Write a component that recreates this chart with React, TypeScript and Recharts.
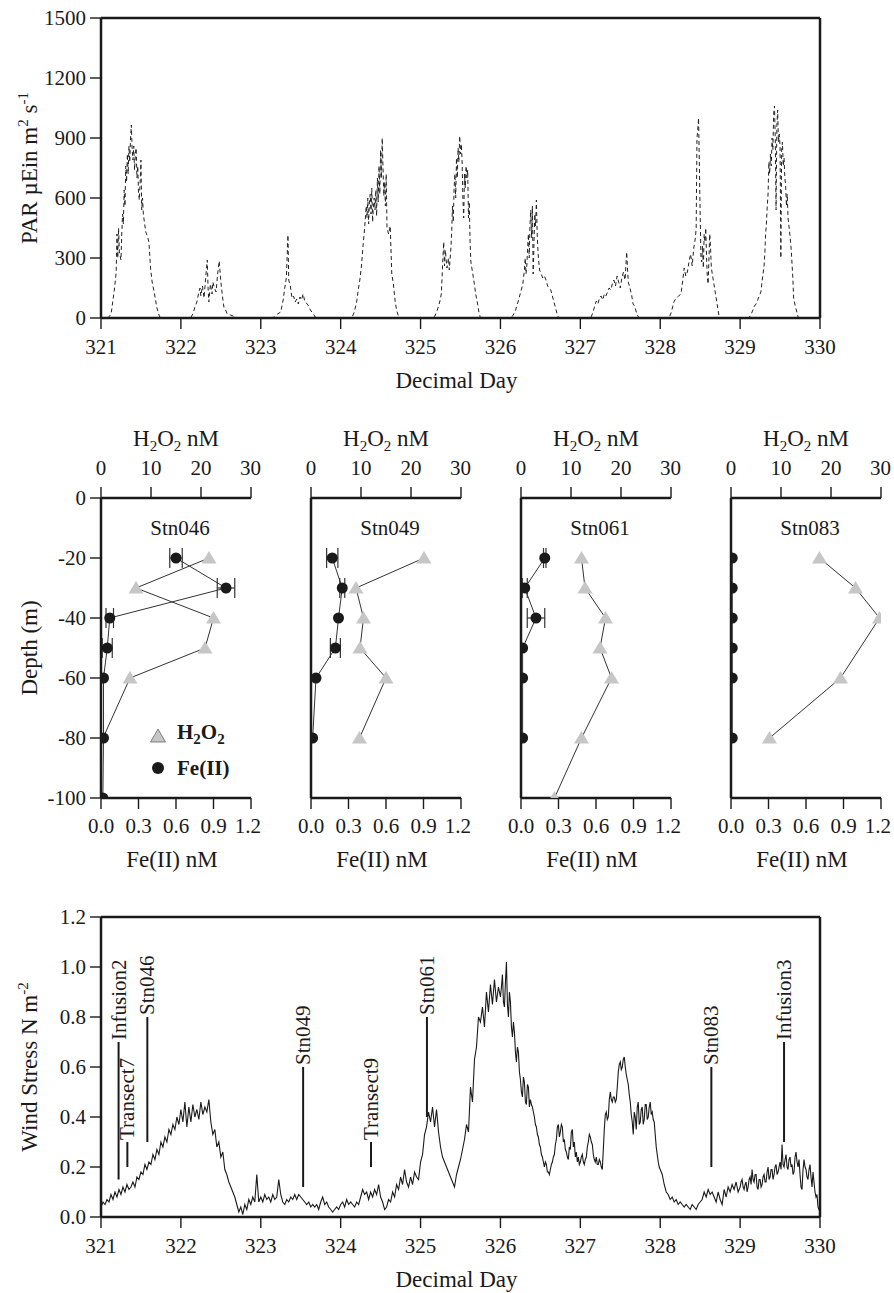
import React from 'react';
import {
  ComposedChart, LineChart, Line, Scatter, XAxis, YAxis, ErrorBar,
  ReferenceLine, ReferenceDot, Legend,
} from 'recharts';

const FONT = '"Liberation Serif", "Times New Roman", serif';
const INK = '#1a1a1a';

// ---- axis ticks ----
const dayTicks = [321, 322, 323, 324, 325, 326, 327, 328, 329, 330];
const parTicks = [0, 300, 600, 900, 1200, 1500];
const windTicks = [0, 0.2, 0.4, 0.6, 0.8, 1.0, 1.2];
const depthTicks = [-100, -80, -60, -40, -20, 0];
const h2o2Ticks = [0, 10, 20, 30];
const feTicks = [0, 0.3, 0.6, 0.9, 1.2];

// ---- PAR, [decimal day, µEin m-2 s-1] ----
const par321 = [[321.08,0],[321.11,10],[321.13,30],[321.15,90],[321.17,150],[321.19,230],[321.2,420],[321.21,300],[321.22,450],[321.23,330],[321.25,290],[321.26,420],[321.27,520],[321.28,470],[321.29,640],[321.3,560],[321.31,760],[321.32,680],[321.33,820],[321.34,720],[321.35,860],[321.36,780],[321.37,900],[321.38,965],[321.39,840],[321.4,790],[321.41,860],[321.42,740],[321.43,820],[321.44,850],[321.45,700],[321.46,760],[321.47,620],[321.48,590],[321.49,680],[321.5,790],[321.51,540],[321.52,600],[321.53,520],[321.54,490],[321.56,430],[321.58,410],[321.6,380],[321.62,250],[321.64,180],[321.67,120],[321.7,50],[321.73,10],[321.75,0]];
const par322 = [[322.12,0],[322.15,20],[322.18,60],[322.2,80],[322.22,120],[322.24,150],[322.25,110],[322.27,160],[322.29,100],[322.31,200],[322.33,290],[322.34,150],[322.35,80],[322.37,170],[322.39,120],[322.4,180],[322.42,150],[322.44,130],[322.46,220],[322.48,285],[322.5,180],[322.52,110],[322.54,50],[322.56,40],[322.58,20],[322.62,15],[322.68,5],[322.72,0]];
const par323 = [[323.12,0],[323.17,5],[323.21,20],[323.25,30],[323.28,90],[323.3,150],[323.32,200],[323.34,415],[323.35,190],[323.37,160],[323.39,100],[323.41,110],[323.43,80],[323.45,95],[323.47,70],[323.49,105],[323.51,90],[323.53,120],[323.55,85],[323.57,75],[323.6,60],[323.62,40],[323.64,30],[323.66,20],[323.68,5],[323.7,0]];
const par324 = [[324.14,0],[324.17,30],[324.2,80],[324.22,140],[324.24,190],[324.26,260],[324.28,360],[324.3,450],[324.32,560],[324.33,500],[324.34,600],[324.35,470],[324.36,580],[324.37,620],[324.38,520],[324.39,650],[324.4,480],[324.41,560],[324.42,600],[324.43,540],[324.44,640],[324.45,510],[324.46,700],[324.47,580],[324.48,760],[324.49,620],[324.5,840],[324.51,700],[324.52,900],[324.53,750],[324.54,610],[324.55,680],[324.56,560],[324.57,720],[324.58,450],[324.6,420],[324.62,460],[324.64,220],[324.66,170],[324.68,90],[324.7,40],[324.73,0]];
const par325 = [[325.15,0],[325.18,10],[325.21,40],[325.24,80],[325.26,120],[325.28,300],[325.29,380],[325.3,260],[325.31,340],[325.33,250],[325.35,300],[325.36,240],[325.38,350],[325.39,430],[325.4,560],[325.41,480],[325.42,650],[325.43,720],[325.44,600],[325.45,800],[325.46,700],[325.47,850],[325.48,780],[325.49,910],[325.5,820],[325.51,870],[325.52,780],[325.53,600],[325.54,500],[325.55,720],[325.56,650],[325.57,760],[325.58,700],[325.59,740],[325.6,500],[325.61,580],[325.62,380],[325.63,280],[325.65,230],[325.67,180],[325.69,120],[325.71,80],[325.73,30],[325.75,0]];
const par326 = [[326.13,0],[326.16,15],[326.19,40],[326.22,80],[326.24,110],[326.26,140],[326.28,170],[326.3,240],[326.31,300],[326.32,220],[326.33,260],[326.34,350],[326.35,420],[326.36,300],[326.37,470],[326.38,540],[326.39,400],[326.4,560],[326.41,220],[326.42,380],[326.43,520],[326.44,460],[326.45,590],[326.46,420],[326.47,330],[326.48,280],[326.49,240],[326.51,220],[326.53,200],[326.55,210],[326.57,190],[326.59,160],[326.61,150],[326.63,140],[326.65,110],[326.67,80],[326.69,50],[326.71,20],[326.73,0]];
const par327 = [[327.13,0],[327.16,30],[327.18,60],[327.2,85],[327.22,70],[327.24,100],[327.26,110],[327.28,90],[327.3,120],[327.32,110],[327.34,130],[327.36,150],[327.38,140],[327.4,170],[327.42,190],[327.44,160],[327.46,210],[327.48,180],[327.5,150],[327.52,200],[327.54,230],[327.56,190],[327.58,330],[327.59,250],[327.6,180],[327.62,150],[327.64,120],[327.66,70],[327.68,60],[327.7,30],[327.72,10],[327.74,0]];
const par328 = [[328.11,0],[328.14,30],[328.17,80],[328.2,100],[328.23,110],[328.26,120],[328.28,180],[328.3,250],[328.32,210],[328.34,230],[328.36,280],[328.38,320],[328.4,260],[328.42,350],[328.44,400],[328.45,450],[328.46,900],[328.47,940],[328.48,1000],[328.49,760],[328.5,520],[328.51,300],[328.52,280],[328.53,360],[328.54,250],[328.55,420],[328.56,380],[328.57,450],[328.58,300],[328.59,200],[328.6,170],[328.61,300],[328.62,420],[328.63,350],[328.64,250],[328.66,200],[328.68,150],[328.7,100],[328.72,50],[328.74,0]];
const par329 = [[329.11,0],[329.14,20],[329.16,40],[329.18,60],[329.2,70],[329.22,90],[329.24,110],[329.26,130],[329.28,200],[329.3,260],[329.31,330],[329.32,420],[329.33,480],[329.34,560],[329.35,620],[329.36,780],[329.37,720],[329.38,820],[329.39,760],[329.4,900],[329.41,840],[329.42,1020],[329.43,1060],[329.44,900],[329.45,540],[329.46,960],[329.47,1040],[329.48,880],[329.49,920],[329.5,860],[329.51,300],[329.52,840],[329.53,880],[329.54,760],[329.55,800],[329.56,700],[329.57,660],[329.58,560],[329.59,620],[329.6,500],[329.62,430],[329.64,340],[329.66,200],[329.67,100],[329.69,60],[329.71,30],[329.73,0]];

// ---- wind stress, N m-2, evenly sampled within each day ----
const wind321 = [0.04,0.06,0.05,0.07,0.06,0.09,0.07,0.10,0.08,0.11,0.09,0.12,0.10,0.13,0.11,0.12,0.14,0.12,0.16,0.15,0.18,0.17,0.21,0.19,0.22,0.21,0.25,0.23,0.27,0.25,0.30,0.28,0.32,0.30,0.35,0.33,0.37,0.35,0.40,0.37];
const wind322 = [0.43,0.38,0.46,0.36,0.44,0.38,0.45,0.40,0.43,0.39,0.46,0.41,0.44,0.42,0.47,0.38,0.33,0.35,0.28,0.30,0.24,0.26,0.19,0.17,0.14,0.12,0.10,0.08,0.05,0.02,0.04,0.01,0.05,0.03,0.07,0.05,0.08,0.06,0.17,0.06];
const wind323 = [0.08,0.06,0.09,0.07,0.08,0.06,0.09,0.07,0.08,0.15,0.09,0.06,0.05,0.07,0.06,0.08,0.07,0.09,0.07,0.09,0.08,0.07,0.06,0.05,0.06,0.04,0.05,0.04,0.05,0.03,0.06,0.08,0.05,0.06,0.04,0.03,0.02,0.03,0.04,0.03];
const wind324 = [0.05,0.06,0.04,0.07,0.05,0.06,0.05,0.04,0.06,0.05,0.08,0.11,0.09,0.10,0.07,0.10,0.08,0.11,0.09,0.13,0.08,0.06,0.03,0.04,0.07,0.06,0.10,0.08,0.13,0.11,0.16,0.13,0.19,0.14,0.12,0.16,0.13,0.18,0.16,0.15];
const wind325 = [0.22,0.25,0.33,0.36,0.42,0.38,0.44,0.36,0.43,0.34,0.28,0.24,0.22,0.20,0.18,0.16,0.14,0.12,0.17,0.20,0.23,0.27,0.31,0.37,0.34,0.52,0.46,0.63,0.68,0.80,0.78,0.84,0.76,0.90,0.82,0.93,0.85,0.95,0.86,0.92];
const wind326 = [0.88,0.92,0.97,0.86,0.84,0.94,1.02,0.85,0.80,0.90,0.86,0.76,0.72,0.78,0.74,0.66,0.62,0.68,0.66,0.58,0.55,0.50,0.48,0.56,0.54,0.46,0.45,0.53,0.52,0.44,0.47,0.45,0.44,0.42,0.40,0.37,0.36,0.33,0.32,0.29,0.28,0.25,0.24,0.22,0.20,0.22,0.21,0.18,0.18,0.17,0.19,0.21,0.22,0.24,0.25,0.29,0.31,0.36,0.37,0.32,0.34,0.37,0.36,0.30,0.31,0.27,0.26,0.24,0.23,0.28,0.27,0.34,0.35,0.28,0.30,0.24,0.26,0.22,0.24,0.21];
const wind327 = [0.22,0.24,0.25,0.22,0.21,0.23,0.24,0.28,0.30,0.33,0.32,0.30,0.29,0.25,0.23,0.22,0.24,0.21,0.21,0.23,0.22,0.20,0.19,0.27,0.35,0.41,0.42,0.39,0.40,0.47,0.50,0.47,0.46,0.48,0.48,0.46,0.47,0.52,0.58,0.61,0.62,0.59,0.60,0.63,0.64,0.60,0.57,0.55,0.53,0.49,0.46,0.41,0.38,0.33,0.42,0.40,0.35,0.44,0.46,0.37,0.38,0.43,0.44,0.37,0.39,0.45,0.45,0.39,0.40,0.44,0.46,0.41,0.42,0.39,0.38,0.33,0.28,0.25,0.22,0.20];
const wind328 = [0.19,0.17,0.13,0.10,0.09,0.07,0.08,0.06,0.07,0.05,0.06,0.05,0.04,0.05,0.04,0.03,0.05,0.04,0.03,0.05,0.06,0.07,0.10,0.08,0.11,0.09,0.10,0.08,0.06,0.10,0.07,0.05,0.11,0.08,0.12,0.10,0.13,0.11,0.14,0.10];
const wind329 = [0.12,0.14,0.15,0.12,0.11,0.13,0.14,0.10,0.12,0.15,0.16,0.13,0.19,0.15,0.14,0.17,0.17,0.12,0.11,0.15,0.15,0.12,0.13,0.16,0.17,0.14,0.14,0.18,0.20,0.15,0.16,0.19,0.19,0.15,0.17,0.20,0.21,0.17,0.18,0.20,0.22,0.19,0.29,0.21,0.20,0.23,0.25,0.20,0.19,0.23,0.24,0.20,0.21,0.17,0.18,0.24,0.26,0.22,0.20,0.23,0.17,0.12,0.11,0.19,0.23,0.20,0.19,0.16,0.15,0.19,0.21,0.16,0.12,0.18,0.14,0.10,0.08,0.09,0.04,0.03];
const wind330 = 0.02;

// ---- event markers on the wind record ----
const eventNames = ['Infusion2', 'Transect7', 'Stn046', 'Stn049', 'Transect9', 'Stn061', 'Stn083', 'Infusion3'];
const eventDays = [321.22, 321.33, 321.58, 323.53, 324.38, 325.08, 328.64, 329.55];
const eventLow = [0.15, 0.2, 0.3, 0.12, 0.2, 0.4, 0.2, 0.3];
const eventHigh = [0.7, 0.3, 0.8, 0.6, 0.3, 0.8, 0.6, 0.7];

// ---- depth profiles: [depth m, H2O2 nM] and [depth m, Fe(II) nM, sd] ----
const stn046H2O2 = [[-20,21.6],[-30,7.0],[-40,22.5],[-50,20.8],[-60,5.8],[-80,0.4]];
const stn046Fe = [[-20,0.6,0.05],[-30,1.0,0.07],[-40,0.07,0.03],[-50,0.05,0.04],[-60,0.02],[-80,0.02],[-100,0.015]];
const stn049H2O2 = [[-20,22.6],[-30,9.0],[-40,10.5],[-50,9.8],[-60,15.0],[-80,9.7]];
const stn049Fe = [[-20,0.17,0.045],[-30,0.25,0.02],[-40,0.22],[-50,0.195,0.04],[-60,0.04],[-80,0.013]];
const stn061H2O2 = [[-20,12.1],[-30,12.8],[-40,16.9],[-50,15.8],[-60,18.1],[-80,12.1],[-100,6.7]];
const stn061Fe = [[-20,0.19,0.01],[-30,0.03,0.02],[-40,0.12,0.07],[-50,0.013],[-60,0.013],[-80,0.013]];
const stn083H2O2 = [[-20,17.7],[-30,24.9],[-40,29.7],[-60,21.9],[-80,7.7]];
const stn083Fe = [[-20,0.01],[-30,0.01],[-40,0.01],[-50,0.01],[-60,0.01],[-80,0.01]];

const legendOrder = ['H2O2', 'Fe(II)'];

const parRows = [par321, par322, par323, par324, par325, par326, par327, par328, par329]
  .flat()
  .map(([t, v]) => ({ t, v }));

const windRows = [wind321, wind322, wind323, wind324, wind325, wind326, wind327, wind328, wind329]
  .flatMap((vals, d) => vals.map((w, i) => ({ t: 321 + d + i / vals.length, w })))
  .concat([{ t: 330, w: wind330 }]);

const events = eventNames.map((name, i) => ({ name, day: eventDays[i], low: eventLow[i], high: eventHigh[i] }));

const toH2O2 = (rows: number[][]) => rows.map(([depth, h]) => ({ depth, h }));
const toFe = (rows: number[][]) =>
  rows.map(([depth, fe, sd]) => (sd === undefined ? { depth, fe } : { depth, fe, err: sd }));

const profiles = [
  { name: 'Stn046', h2o2: toH2O2(stn046H2O2), fe: toFe(stn046Fe) },
  { name: 'Stn049', h2o2: toH2O2(stn049H2O2), fe: toFe(stn049Fe) },
  { name: 'Stn061', h2o2: toH2O2(stn061H2O2), fe: toFe(stn061Fe) },
  { name: 'Stn083', h2o2: toH2O2(stn083H2O2), fe: toFe(stn083Fe) },
];

// ---- shared styling ----
const tickStyle = { fontSize: 21, fill: INK, fontFamily: FONT };
const axisLine = { stroke: INK, strokeWidth: 2.5 };
const tickLine = { stroke: INK, strokeWidth: 1.4 };
const axisCommon = { axisLine, tickLine, tickSize: 11, tickMargin: 10, tick: tickStyle };
const TITLE = 23;
const SUP = 15;

const decimalDayTitle = (props: any) => {
  const vb = props.viewBox || {};
  return (
    <text x={vb.x + vb.width / 2 - 4} y={vb.y + 70} textAnchor="middle" fontSize={TITLE} fontFamily={FONT} fill={INK}>
      Decimal Day
    </text>
  );
};

const parTitle = (props: any) => {
  const vb = props.viewBox || {};
  const x = 37;
  const y = vb.y + vb.height / 2;
  return (
    <text x={x} y={y} transform={`rotate(-90 ${x} ${y})`} textAnchor="middle" fontSize={TITLE} fontFamily={FONT} fill={INK}>
      PAR µEin m<tspan dy={-9} fontSize={SUP}>2</tspan>
      <tspan dy={9}> s</tspan>
      <tspan dy={-9} fontSize={SUP}>-1</tspan>
    </text>
  );
};

const windTitle = (props: any) => {
  const vb = props.viewBox || {};
  const x = 37;
  const y = vb.y + vb.height / 2;
  return (
    <text x={x} y={y} transform={`rotate(-90 ${x} ${y})`} textAnchor="middle" fontSize={TITLE} fontFamily={FONT} fill={INK}>
      Wind Stress N m<tspan dy={-9} fontSize={SUP}>-2</tspan>
    </text>
  );
};

const depthTitle = (props: any) => {
  const vb = props.viewBox || {};
  const x = 37;
  const y = vb.y + vb.height / 2;
  return (
    <text x={x} y={y} transform={`rotate(-90 ${x} ${y})`} textAnchor="middle" fontSize={TITLE} fontFamily={FONT} fill={INK}>
      Depth (m)
    </text>
  );
};

const h2o2Title = (props: any) => {
  const vb = props.viewBox || {};
  return (
    <text x={vb.x + vb.width / 2} y={vb.y + vb.height - 52} textAnchor="middle" fontSize={TITLE} fontFamily={FONT} fill={INK}>
      H<tspan dy={5} fontSize={SUP}>2</tspan>
      <tspan dy={-5}>O</tspan>
      <tspan dy={5} fontSize={SUP}>2</tspan>
      <tspan dy={-5}> nM</tspan>
    </text>
  );
};

const feTitle = (props: any) => {
  const vb = props.viewBox || {};
  return (
    <text x={vb.x + vb.width / 2 - 4} y={vb.y + 69} textAnchor="middle" fontSize={TITLE} fontFamily={FONT} fill={INK}>
      Fe(II) nM
    </text>
  );
};

const Triangle = (p: any) => {
  const h = p.payload ? p.payload.h : p.h;
  if (h !== undefined && h < 1) return <g />;
  return (
    <polygon
      points={`${p.cx},${p.cy - 7} ${p.cx - 7.5},${p.cy + 5.5} ${p.cx + 7.5},${p.cy + 5.5}`}
      fill="#c6c6c6"
    />
  );
};

const Dot = (p: any) => <circle cx={p.cx} cy={p.cy} r={5.5} fill={INK} />;

const ProfileLegend = (props: any) => {
  const items = [...(props.payload || [])].sort(
    (a: any, b: any) => legendOrder.indexOf(a.value) - legendOrder.indexOf(b.value),
  );
  return (
    <div style={{ fontFamily: FONT, fontWeight: 'bold', fontSize: 21, color: INK }}>
      {items.map((e: any) => (
        <div key={e.value} style={{ display: 'flex', alignItems: 'center', height: 32 }}>
          <svg width={20} height={20}>
            {e.value === 'H2O2' ? (
              <polygon points="10,3 2.5,16 17.5,16" fill="#c6c6c6" stroke="#666" strokeWidth={0.8} />
            ) : (
              <circle cx={10} cy={10} r={6} fill={INK} />
            )}
          </svg>
          <span style={{ marginLeft: 9, lineHeight: '21px' }}>
            {e.value === 'H2O2' ? (
              <>H<sub style={{ fontSize: 15 }}>2</sub>O<sub style={{ fontSize: 15 }}>2</sub></>
            ) : (
              e.value
            )}
          </span>
        </div>
      ))}
    </div>
  );
};

const StationName = (name: string) => (p: any) => (
  <text x={p.cx} y={p.cy} textAnchor="middle" dy="0.35em" fontSize={21} fontFamily={FONT} fill={INK}>
    {name}
  </text>
);

const EventName = (name: string) => (p: any) => {
  const x = p.cx;
  const y = p.cy - 2;
  return (
    <text x={x} y={y} dy="0.34em" transform={`rotate(-90 ${x} ${y})`} textAnchor="start" fontSize={21} fontFamily={FONT} fill={INK}>
      {name}
    </text>
  );
};

const PANEL_LEFT = [101, 311, 521, 731];

const Profile = ({ idx }: { idx: number }) => {
  const p = profiles[idx];
  const first = idx === 0;
  return (
    <ComposedChart width={261} height={480} margin={{ top: 38, right: 10, bottom: 22, left: 0 }}>
      <XAxis
        xAxisId="h"
        orientation="top"
        type="number"
        dataKey="h"
        domain={[0, 30]}
        ticks={h2o2Ticks}
        height={60}
        allowDataOverflow
        {...axisCommon}
        tickMargin={12}
        label={h2o2Title}
      />
      <XAxis
        xAxisId="f"
        orientation="bottom"
        type="number"
        dataKey="fe"
        domain={[0, 1.2]}
        ticks={feTicks}
        height={60}
        allowDataOverflow
        {...axisCommon}
        tickMargin={9}
        tickFormatter={(v: number) => v.toFixed(1)}
        label={feTitle}
      />
      <YAxis
        yAxisId="d"
        type="number"
        dataKey="depth"
        domain={[-100, 0]}
        ticks={depthTicks}
        width={101}
        allowDataOverflow
        {...axisCommon}
        tickMargin={4}
        tick={first ? tickStyle : false}
        label={first ? depthTitle : undefined}
      />
      <Scatter
        name="H2O2"
        xAxisId="h"
        yAxisId="d"
        data={p.h2o2}
        fill="#c6c6c6"
        line={{ stroke: '#333', strokeWidth: 1 }}
        shape={Triangle}
        isAnimationActive={false}
      />
      <Scatter
        name="Fe(II)"
        xAxisId="f"
        yAxisId="d"
        data={p.fe}
        fill={INK}
        line={{ stroke: '#333', strokeWidth: 1 }}
        shape={Dot}
        isAnimationActive={false}
      >
        <ErrorBar dataKey="err" direction="x" width={10} stroke="#333" strokeWidth={1.2} />
      </Scatter>
      <ReferenceDot xAxisId="h" yAxisId="d" x={15.8} y={-10} r={0} shape={StationName(p.name)} />
      {first && (
        <Legend
          layout="vertical"
          verticalAlign="middle"
          align="center"
          content={ProfileLegend}
          wrapperStyle={{ left: 148, top: 320, width: 120 }}
        />
      )}
    </ComposedChart>
  );
};

const App = () => (
  <div style={{ position: 'absolute', left: 0, top: 0, width: 894, height: 1293, background: '#fff', fontFamily: FONT }}>
    {/* PAR */}
    <div style={{ position: 'absolute', left: 0, top: 0 }}>
      <LineChart width={894} height={400} data={parRows} margin={{ top: 6, right: 60, bottom: 22, left: 21 }}>
        <XAxis dataKey="t" type="number" domain={[321, 330]} ticks={dayTicks} height={60} allowDataOverflow {...axisCommon} label={decimalDayTitle} />
        <XAxis xAxisId="top" orientation="top" dataKey="t" type="number" domain={[321, 330]} ticks={dayTicks} height={12} allowDataOverflow {...axisCommon} tick={false} />
        <YAxis type="number" domain={[0, 1500]} ticks={parTicks} width={80} allowDataOverflow {...axisCommon} tickMargin={4} label={parTitle} />
        <YAxis yAxisId="right" orientation="right" type="number" domain={[0, 1500]} ticks={parTicks} width={14} allowDataOverflow {...axisCommon} tick={false} />
        <Line dataKey="v" stroke="#222" strokeWidth={1} strokeDasharray="4 3" dot={false} isAnimationActive={false} />
      </LineChart>
    </div>

    {/* profiles */}
    {PANEL_LEFT.map((left, i) => (
      <div key={i} style={{ position: 'absolute', left: left - 101, top: 400 }}>
        <Profile idx={i} />
      </div>
    ))}

    {/* wind stress */}
    <div style={{ position: 'absolute', left: 0, top: 860 }}>
      <ComposedChart width={894} height={433} margin={{ top: 45, right: 60, bottom: 16, left: 21 }}>
        <XAxis dataKey="t" type="number" domain={[321, 330]} ticks={dayTicks} height={60} allowDataOverflow {...axisCommon} label={decimalDayTitle} />
        <XAxis xAxisId="top" orientation="top" dataKey="t" type="number" domain={[321, 330]} ticks={dayTicks} height={12} allowDataOverflow {...axisCommon} tick={false} />
        <YAxis type="number" domain={[0, 1.2]} ticks={windTicks} width={80} allowDataOverflow {...axisCommon} tickMargin={4} tickFormatter={(v: number) => v.toFixed(1)} label={windTitle} />
        <YAxis yAxisId="right" orientation="right" type="number" domain={[0, 1.2]} ticks={windTicks} width={14} allowDataOverflow {...axisCommon} tick={false} />
        <Line data={windRows} dataKey="w" stroke={INK} strokeWidth={1.1} dot={false} isAnimationActive={false} />
        {events.map((e) => (
          <ReferenceLine
            key={`l-${e.name}`}
            segment={[{ x: e.day, y: e.low }, { x: e.day, y: e.high }]}
            stroke={INK}
            strokeWidth={2}
          />
        ))}
        {events.map((e) => (
          <ReferenceDot key={`d-${e.name}`} x={e.day} y={e.high} r={0} shape={EventName(e.name)} />
        ))}
      </ComposedChart>
    </div>
  </div>
);

export default App;
